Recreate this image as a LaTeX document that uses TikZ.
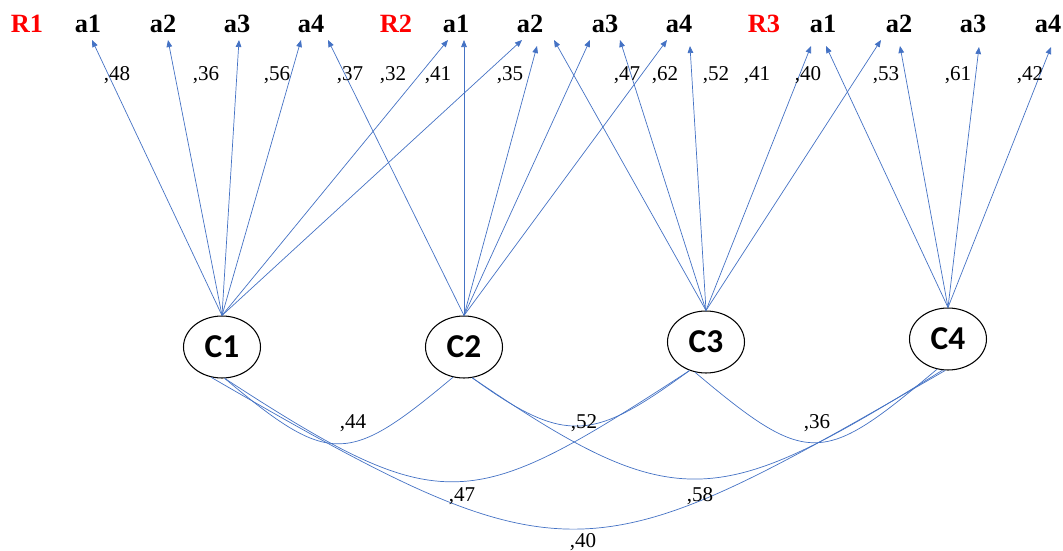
\documentclass[tikz,border=0pt]{standalone}
\usepackage{fontspec}
\setmainfont{Liberation Serif}
\newfontfamily\calibri{Carlito}
\usepackage{xcolor}
\definecolor{cLoad}{HTML}{4472C4}
\definecolor{cBlock}{HTML}{FF0000}
\usepackage{tikz}
\usetikzlibrary{arrows.meta,calc,shapes.geometric}
\tikzset{
  node-item/.style={anchor=base,inner sep=1pt,font=\fontsize{15}{15}\selectfont\bfseries},
  node-block/.style={node-item,text=cBlock},
  node-factor/.style={draw=black,line width=0.6pt,ellipse,inner sep=0pt,
    minimum width=1.54cm,minimum height=1.24cm,
    font=\calibri\bfseries\fontsize{19}{19}\selectfont},
  node-weight/.style={anchor=base,inner sep=1pt,font=\fontsize{12}{12}\selectfont},
  arrow-load/.style={-{Triangle[length=4pt,width=3.2pt]},line width=0.4pt,draw=cLoad},
  line-corr/.style={line width=0.4pt,draw=cLoad},
}

\begin{document}
\begin{tikzpicture}[x=0.02cm,y=-0.02cm]
  \useasboundingbox (0,0) rectangle (1063,551);
  % item row
  \node[node-block] (r1) at (27,32) {R1};
  \node[node-item] (r1a1) at (88,32)  {a1};
  \node[node-item] (r1a2) at (163,32) {a2};
  \node[node-item] (r1a3) at (237,32) {a3};
  \node[node-item] (r1a4) at (311,32) {a4};
  \node[node-block] (r2) at (396,32) {R2};
  \node[node-item] (r2a1) at (456,32) {a1};
  \node[node-item] (r2a2) at (530,32) {a2};
  \node[node-item] (r2a3) at (605,32) {a3};
  \node[node-item] (r2a4) at (679,32) {a4};
  \node[node-block] (r3) at (764,32) {R3};
  \node[node-item] (r3a1) at (823,32)  {a1};
  \node[node-item] (r3a2) at (899,32)  {a2};
  \node[node-item] (r3a3) at (973,32)  {a3};
  \node[node-item] (r3a4) at (1048,32) {a4};
  % factors
  \node[node-factor] (c1) at (222,347) {C1};
  \node[node-factor] (c2) at (464,347) {C2};
  \node[node-factor] (c3) at (706,342) {C3};
  \node[node-factor] (c4) at (948,339) {C4};
  % loadings
  \draw[arrow-load] (c1.north) -- ($(r1a1.base)+(4,8)$);
  \draw[arrow-load] (c1.north) -- ($(r1a2.base)+(5,8)$);
  \draw[arrow-load] (c1.north) -- ($(r1a3.base)+(2,8)$);
  \draw[arrow-load] (c1.north) -- ($(r1a4.base)+(-10,8)$);
  \draw[arrow-load] (c1.north) -- ($(r2a1.base)+(-8,8)$);
  \draw[arrow-load] (c1.north) -- ($(r2a2.base)+(-8,8)$);
  \draw[arrow-load] (c2.north) -- ($(r1a4.base)+(17,8)$);
  \draw[arrow-load] (c2.north) -- ($(r2a1.base)+(8,8)$);
  \draw[arrow-load] (c2.north) -- ($(r2a2.base)+(7,14)$);
  \draw[arrow-load] (c2.north) -- ($(r2a3.base)+(-15,8)$);
  \draw[arrow-load] (c2.north) -- ($(r2a4.base)+(-12,8)$);
  \draw[arrow-load] (c3.north) -- ($(r2a2.base)+(24,8)$);
  \draw[arrow-load] (c3.north) -- ($(r2a3.base)+(15,8)$);
  \draw[arrow-load] (c3.north) -- ($(r2a4.base)+(11,14)$);
  \draw[arrow-load] (c3.north) -- ($(r3a1.base)+(-12,14)$);
  \draw[arrow-load] (c3.north) -- ($(r3a2.base)+(-18,8)$);
  \draw[arrow-load] (c4.north) -- ($(r3a1.base)+(3,14)$);
  \draw[arrow-load] (c4.north) -- ($(r3a2.base)+(1,14)$);
  \draw[arrow-load] (c4.north) -- ($(r3a3.base)+(6,15)$);
  \draw[arrow-load] (c4.north) -- ($(r3a4.base)+(3,15)$);
  % loading values
  \node[node-weight] (w1)  at (117,80)  {,48};
  \node[node-weight] (w2)  at (206,80)  {,36};
  \node[node-weight] (w3)  at (277,80)  {,56};
  \node[node-weight] (w4)  at (350,80)  {,37};
  \node[node-weight] (w5)  at (393,80)  {,32};
  \node[node-weight] (w6)  at (438,80)  {,41};
  \node[node-weight] (w7)  at (510,80)  {,35};
  \node[node-weight] (w8)  at (627,80)  {,47};
  \node[node-weight] (w9)  at (665,80)  {,62};
  \node[node-weight] (w10) at (716,80)  {,52};
  \node[node-weight] (w11) at (757,80)  {,41};
  \node[node-weight] (w12) at (808,80)  {,40};
  \node[node-weight] (w13) at (886,80)  {,53};
  \node[node-weight] (w14) at (958,80)  {,61};
  \node[node-weight] (w15) at (1030,80) {,42};
  % correlations
  \draw[line-corr] (c1.-85) .. controls +(105,88) and +(-105,88) .. (c2.-110);
  \draw[line-corr] (c2.-75) .. controls +(95,69) and +(-95,69) .. (c3.-120);
  \draw[line-corr] (c3.-110) .. controls +(114,96) and +(-114,96) .. (c4.-110);
  \draw[line-corr] (c1.-85) .. controls +(220,143) and +(-220,143) .. (c3.-120);
  \draw[line-corr] (c2.-75) .. controls +(205,140) and +(-225,140) .. (c4.-100);
  \draw[line-corr] (c1.-110) .. controls +(358,207) and +(-358,207) .. (c4.-95);
  \node[node-weight] (k12) at (353,428) {,44};
  \node[node-weight] (k23) at (584,428) {,52};
  \node[node-weight] (k34) at (817,428) {,36};
  \node[node-weight] (k13) at (462,501) {,47};
  \node[node-weight] (k24) at (700,501) {,58};
  \node[node-weight] (k14) at (583,547) {,40};
\end{tikzpicture}
\end{document}
